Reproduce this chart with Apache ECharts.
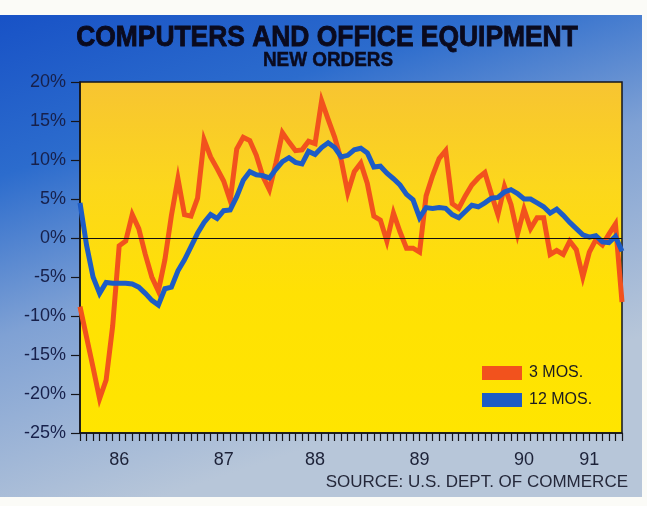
<!DOCTYPE html>
<html>
<head>
<meta charset="utf-8">
<script src="https://cdn.jsdelivr.net/npm/echarts@6/dist/echarts.min.js"></script>
<style>
  html, body { margin: 0; padding: 0; background: #fbfbf7; }
  #chart { width: 647px; height: 506px; }
</style>
</head>
<body>
<div id="chart"></div>
<script>
// Monthly observations, percent change in new orders
const monthCount = 84;
const months = Array.from({ length: monthCount }, (_, i) => String(i));

// Year labels and the month index each one sits under
const yearLabels = ['86', '87', '88', '89', '90', '91'];
const yearLabelIndex = [6, 22, 36, 52, 68, 78];

// 3-month change
const threeMonth = [
  -8.8, -12.7, -16.6, -20.6, -18.2, -11.3, -1.0, -0.4, 3.0, 1.2,
  -2.1, -5.0, -6.8, -2.8, 2.9, 7.6, 3.0, 2.8, 5.1, 12.6,
  10.4, 8.9, 7.3, 4.8, 11.4, 12.9, 12.5, 10.6, 7.9, 6.2,
  9.6, 13.5, 12.3, 11.2, 11.3, 12.4, 12.1, 17.6, 15.2, 12.9,
  10.0, 5.8, 8.5, 9.6, 7.0, 2.8, 2.3, -0.4, 3.2, 0.8,
  -1.3, -1.3, -1.8, 5.4, 8.0, 10.2, 11.2, 4.4, 3.8, 5.4,
  6.8, 7.7, 8.4, 5.6, 3.0, 6.6, 4.3, 0.5, 3.7, 1.2,
  2.6, 2.6, -2.1, -1.6, -2.1, -0.4, -1.5, -5.0, -1.8, -0.2,
  -0.9, 0.5, 1.8, -8.2
];

// 12-month change
const twelveMonth = [
  4.5, -0.9, -5.0, -7.1, -5.7, -5.8, -5.8, -5.8, -5.9, -6.3,
  -7.1, -8.0, -8.6, -6.5, -6.3, -4.2, -2.8, -1.1, 0.6, 2.0,
  3.0, 2.5, 3.5, 3.6, 5.3, 7.4, 8.5, 8.1, 8.0, 7.7,
  8.8, 9.8, 10.3, 9.7, 9.5, 11.1, 10.7, 11.6, 12.2, 11.6,
  10.4, 10.6, 11.3, 11.5, 10.9, 9.1, 9.2, 8.3, 7.6, 6.8,
  5.6, 4.9, 2.6, 3.9, 3.8, 3.9, 3.8, 3.0, 2.6, 3.4,
  4.2, 4.0, 4.5, 5.1, 5.2, 5.9, 6.2, 5.7, 5.0, 5.0,
  4.5, 4.0, 3.2, 3.7, 2.9, 2.0, 1.2, 0.4, 0.1, 0.3,
  -0.5, -0.6, 0.2, -1.7
];

const FONT = '"Liberation Sans", Arial, Helvetica, sans-serif';
const ORANGE = '#f2521d';
const BLUE = '#1d5cc6';
const INK = '#0a0a1e';

const chart = echarts.init(document.getElementById('chart'), null, { renderer: 'canvas' });

chart.setOption({
  animation: false,
  backgroundColor: 'transparent',
  textStyle: { fontFamily: FONT },
  graphic: [
    {
      type: 'rect',
      z: -100,
      silent: true,
      shape: { x: 0, y: 15, width: 642, height: 482 },
      style: {
        fill: new echarts.graphic.LinearGradient(0, 0, 0.25, 1, [
          { offset: 0, color: '#1852c6' },
          { offset: 0.3, color: '#2c6ccd' },
          { offset: 0.6, color: '#7fa1d4' },
          { offset: 1, color: '#b7c6d9' }
        ])
      }
    },
    {
      type: 'text',
      z: 100,
      x: 327, y: 38,
      scaleX: 0.88,
      style: {
        text: 'COMPUTERS AND OFFICE EQUIPMENT',
        font: 'bold 30px ' + FONT,
        fill: INK,
        stroke: INK,
        lineWidth: 0.9,
        align: 'center',
        verticalAlign: 'middle'
      }
    },
    {
      type: 'text',
      z: 100,
      x: 328, y: 60,
      scaleX: 0.9,
      style: {
        text: 'NEW ORDERS',
        font: 'bold 21px ' + FONT,
        fill: INK,
        stroke: INK,
        lineWidth: 0.5,
        align: 'center',
        verticalAlign: 'middle'
      }
    },
    {
      type: 'text',
      z: 100,
      x: 628, y: 482,
      style: {
        text: 'SOURCE: U.S. DEPT. OF COMMERCE',
        font: '17px ' + FONT,
        fill: '#25283a',
        align: 'right',
        verticalAlign: 'middle'
      }
    }
  ],
  grid: {
    left: 80,
    right: 25,
    top: 82,
    bottom: 73,
    show: true,
    backgroundColor: new echarts.graphic.LinearGradient(0, 0, 0, 1, [
      { offset: 0, color: '#f7c432' },
      { offset: 0.3, color: '#fcd71c' },
      { offset: 0.6, color: '#ffe104' },
      { offset: 1, color: '#ffe500' }
    ]),
    borderColor: '#15151a',
    borderWidth: 1.5
  },
  legend: {
    orient: 'vertical',
    left: 477,
    top: 360,
    itemWidth: 40,
    itemHeight: 14,
    itemGap: 11,
    icon: 'rect',
    textStyle: { fontSize: 16, color: '#1b1b22', fontFamily: FONT, padding: [0, 0, 0, 2] },
    data: ['3 MOS.', '12 MOS.']
  },
  xAxis: {
    type: 'category',
    data: months,
    boundaryGap: false,
    axisLine: { show: true, onZero: false, lineStyle: { color: '#15151a', width: 1.5 } },
    axisTick: {
      show: true,
      interval: 0,
      length: 8,
      lineStyle: { color: '#15151a', width: 1.2 }
    },
    axisLabel: {
      interval: 0,
      margin: 18,
      fontSize: 18,
      color: '#1d2238',
      fontFamily: FONT,
      formatter: function (value, index) {
        const k = yearLabelIndex.indexOf(index);
        return k >= 0 ? yearLabels[k] : '';
      }
    },
    splitLine: { show: false }
  },
  yAxis: {
    type: 'value',
    min: -25,
    max: 20,
    interval: 5,
    axisLine: { show: true, lineStyle: { color: '#15151a', width: 1.5 } },
    axisTick: { show: true, length: 9, lineStyle: { color: '#15151a', width: 1.2 } },
    axisLabel: {
      margin: 14,
      fontSize: 18,
      color: '#17204a',
      fontFamily: FONT,
      formatter: '{value}%'
    },
    splitLine: { show: false }
  },
  series: [
    {
      name: '3 MOS.',
      type: 'line',
      data: threeMonth,
      symbol: 'none',
      lineStyle: { color: ORANGE, width: 5, join: 'miter' },
      itemStyle: { color: ORANGE },
      z: 3,
      markLine: {
        silent: true,
        symbol: 'none',
        label: { show: false },
        lineStyle: { color: '#111', width: 1.1, type: 'solid' },
        data: [{ yAxis: 0 }]
      }
    },
    {
      name: '12 MOS.',
      type: 'line',
      data: twelveMonth,
      symbol: 'none',
      lineStyle: { color: BLUE, width: 5, join: 'miter' },
      itemStyle: { color: BLUE },
      z: 4
    }
  ]
});
</script>
</body>
</html>
